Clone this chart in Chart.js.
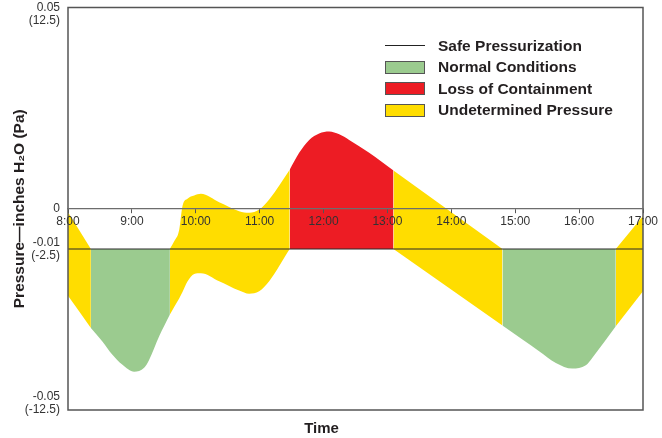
<!DOCTYPE html>
<html>
<head>
<meta charset="utf-8">
<script src="https://cdn.jsdelivr.net/npm/chart.js@4.4.1/dist/chart.umd.min.js"></script>
<style>
  body { margin: 0; background: #fff; }
  #wrap { position: relative; width: 662px; height: 438px; }
  #legend { position: absolute; left: 385px; top: 35px; font: bold 15.5px "Liberation Sans", Arial, sans-serif; color: #231f20; }
  #legend .row { display: flex; align-items: center; height: 21.5px; white-space: nowrap; }
  #legend .swatch { width: 40px; height: 13px; box-sizing: border-box; border: 1px solid #555; margin-right: 13px; }
  #legend .line { width: 40px; height: 0; border-top: 1px solid #222; margin-right: 13px; }
</style>
</head>
<body>
<div id="wrap">
  <canvas id="chart" width="662" height="438"></canvas>
  <div id="legend"></div>
</div>
<script>
const hourTicks = [8, 9, 10, 11, 12, 13, 14, 15, 16, 17];
const hourLabels = ['8:00', '9:00', '10:00', '11:00', '12:00', '13:00', '14:00', '15:00', '16:00', '17:00'];
const yTicks = [0.05, 0, -0.01, -0.05];
const yTickLabels = [['', '0.05', '(12.5)'], '0', ['-0.01', '(-2.5)'], ['-0.05', '(-12.5)', '']];
const safeLevel = -0.01;

// pressure band, left to right: hours, upper edge, lower edge (inches H2O)
const seg1Hours = [8, 8.358];
const seg1Upper = [-0.0009, -0.01];
const seg1Lower = [-0.0216, -0.0296];

const seg2Hours = [8.358, 8.535, 8.692, 8.848, 9.036, 9.192, 9.271, 9.427, 9.595];
const seg2Upper = [-0.01, -0.01, -0.01, -0.01, -0.01, -0.01, -0.01, -0.01, -0.01];
const seg2Lower = [-0.0296, -0.0329, -0.0362, -0.0387, -0.0405, -0.0395, -0.0375, -0.0317, -0.0263];

const seg3Hours = [9.595, 9.662, 9.740, 9.792, 9.870, 9.975, 10.080, 10.366, 10.679, 10.836, 10.992, 11.149, 11.47];
const seg3Upper = [-0.01, -0.0081, -0.0053, 0.0007, 0.0025, 0.0033, 0.0037, 0.0016, -0.0006, -0.0010, -0.0002, 0.0023, 0.0097];
const seg3Lower = [-0.0263, -0.0244, -0.0223, -0.0207, -0.0181, -0.0162, -0.0160, -0.0180, -0.0203, -0.0211, -0.0205, -0.0180, -0.01];

const seg4Hours = [11.47, 11.618, 11.775, 11.931, 12.088, 12.245, 12.401, 12.714, 13.094];
const seg4Upper = [0.0097, 0.0139, 0.0171, 0.0187, 0.0192, 0.0185, 0.0171, 0.0139, 0.0095];
const seg4Lower = [-0.01, -0.01, -0.01, -0.01, -0.01, -0.01, -0.01, -0.01, -0.01];

const seg5Hours = [13.094, 14.80];
const seg5Upper = [0.0095, -0.01];
const seg5Lower = [-0.01, -0.0290];

const seg6Hours = [14.80, 15.113, 15.374, 15.636, 15.895, 16.105, 16.208, 16.574];
const seg6Upper = [-0.01, -0.01, -0.01, -0.01, -0.01, -0.01, -0.01, -0.01];
const seg6Lower = [-0.0290, -0.0325, -0.0354, -0.0383, -0.0397, -0.0389, -0.0370, -0.0292];

const seg7Hours = [16.574, 17];
const seg7Upper = [-0.01, -0.0018];
const seg7Lower = [-0.0292, -0.0205];

const segments = [
  ['undetermined', seg1Hours, seg1Upper, seg1Lower],
  ['normal', seg2Hours, seg2Upper, seg2Lower],
  ['undetermined', seg3Hours, seg3Upper, seg3Lower],
  ['loss', seg4Hours, seg4Upper, seg4Lower],
  ['undetermined', seg5Hours, seg5Upper, seg5Lower],
  ['normal', seg6Hours, seg6Upper, seg6Lower],
  ['undetermined', seg7Hours, seg7Upper, seg7Lower]
];

const zoneColors = { normal: '#9bcb8f', loss: '#ed1c24', undetermined: '#ffdd00' };
const legendLabels = ['Safe Pressurization', 'Normal Conditions', 'Loss of Containment', 'Undetermined Pressure'];
const legendKeys = ['safe', 'normal', 'loss', 'undetermined'];

const FONT = '"Liberation Sans", Arial, Helvetica, sans-serif';
Chart.defaults.font.family = FONT;

const datasets = [{
  label: 'Safe Pressurization',
  data: [{ x: hourTicks[0], y: safeLevel }, { x: hourTicks[hourTicks.length - 1], y: safeLevel }],
  borderColor: '#2b2b2b',
  borderWidth: 1.2,
  pointRadius: 0,
  fill: false
}];

segments.forEach(([status, hours, upper, lower]) => {
  const common = {
    borderColor: 'rgba(0,0,0,0)',
    borderWidth: 0,
    pointRadius: 0,
    cubicInterpolationMode: 'monotone'
  };
  datasets.push({ ...common, label: status, data: hours.map((h, i) => ({ x: h, y: upper[i] })), fill: '+1', backgroundColor: zoneColors[status] });
  datasets.push({ ...common, label: status, data: hours.map((h, i) => ({ x: h, y: lower[i] })), fill: false });
});

// plot frame
const frame = {
  id: 'frame',
  afterDatasetsDraw(chart) {
    const { ctx, chartArea: a } = chart;
    ctx.save();
    ctx.strokeStyle = '#555';
    ctx.lineWidth = 1.5;
    ctx.strokeRect(a.left, a.top, a.right - a.left, a.bottom - a.top);
    ctx.restore();
  }
};

new Chart(document.getElementById('chart'), {
  type: 'line',
  data: { datasets },
  plugins: [frame],
  options: {
    responsive: false,
    animation: false,
    events: [],
    layout: { padding: { top: 7.5, right: 19, bottom: 0, left: 0 } },
    plugins: {
      legend: { display: false },
      tooltip: { enabled: false },
      title: {
        display: true,
        text: 'Time',
        position: 'bottom',
        color: '#231f20',
        font: { size: 15, weight: 'bold' },
        padding: { top: 10, bottom: 0 }
      }
    },
    scales: {
      x: {
        type: 'linear',
        min: 8,
        max: 17,
        position: { y: 0 },
        afterBuildTicks: s => { s.ticks = hourTicks.map(v => ({ value: v })); },
        afterFit: s => { s.paddingLeft = 0; s.paddingRight = 0; s.paddingTop = 0; s.paddingBottom = 0; },
        ticks: {
          z: 1,
          autoSkip: false,
          maxRotation: 0,
          padding: 2,
          color: '#333',
          font: { size: 12 },
          callback: (v, i) => hourLabels[i]
        },
        grid: { z: 1, drawOnChartArea: false, tickLength: 4, color: '#555' },
        border: { z: 1, color: '#6d6d6d', width: 1.2 }
      },
      y: {
        type: 'linear',
        min: -0.05,
        max: 0.05,
        afterBuildTicks: s => { s.ticks = yTicks.map(v => ({ value: v })); },
        afterFit: s => { s.width = 68; s.paddingTop = 0; s.paddingBottom = 0; },
        ticks: {
          autoSkip: false,
          padding: 8,
          color: '#333',
          font: { size: 12, lineHeight: 1.1 },
          callback: (v, i) => yTickLabels[i]
        },
        grid: { display: false, drawTicks: false },
        border: { display: false },
        title: {
          display: true,
          text: 'Pressure\u2014inches H\u2082O (Pa)',
          color: '#231f20',
          font: { size: 15.5, weight: 'bold' },
          padding: { top: 10, bottom: 0 }
        }
      }
    }
  }
});

// legend overlay inside the plot
const legendEl = document.getElementById('legend');
legendLabels.forEach((text, i) => {
  const row = document.createElement('div');
  row.className = 'row';
  const mark = document.createElement('span');
  if (legendKeys[i] === 'safe') {
    mark.className = 'line';
  } else {
    mark.className = 'swatch';
    mark.style.background = zoneColors[legendKeys[i]];
  }
  const label = document.createElement('span');
  label.textContent = text;
  row.appendChild(mark);
  row.appendChild(label);
  legendEl.appendChild(row);
});
</script>
</body>
</html>
